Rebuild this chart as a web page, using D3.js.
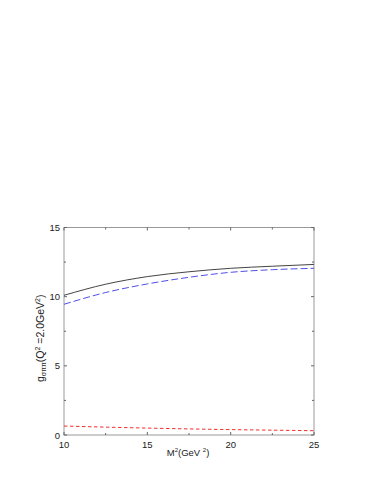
<!DOCTYPE html>
<html><head><meta charset="utf-8">
<script src="https://cdn.jsdelivr.net/npm/d3@7"></script>
<style>body{margin:0;background:#fff}svg{display:block}text{font-family:"Liberation Sans",Arial,sans-serif}</style>
</head><body>
<svg id="c" width="379" height="491"></svg>
<script>
const xs = [10, 12.5, 15, 17.5, 20, 22.5, 25];
const solid = [10.1, 10.9, 11.45, 11.8, 12.05, 12.2, 12.33];
const blueDash = [9.45, 10.3, 10.92, 11.4, 11.76, 11.95, 12.05];
const redDash = [0.65, 0.57, 0.5, 0.44, 0.39, 0.35, 0.31];
const xMajor = [10, 15, 20, 25];
const xMinor = [12.5, 17.5, 22.5];
const yMajor = [0, 5, 10, 15];
const yMinor = [2.5, 7.5, 12.5];

const svg = d3.select("#c");
const L = 64, R = 314, T = 227.5, B = 435;
const x = d3.scaleLinear().domain([10, 25]).range([L, R]);
const y = d3.scaleLinear().domain([0, 15]).range([B, T]);
const frame = "#999";

svg.append("rect").attr("x", L).attr("y", T).attr("width", R - L).attr("height", B - T)
  .attr("fill", "none").attr("stroke", frame).attr("stroke-width", 1);

const g = svg.append("g");
function ticks(vals, len) {
  vals.forEach(v => {
    g.append("line").attr("x1", x(v)).attr("x2", x(v)).attr("y1", B).attr("y2", B - len).attr("stroke", "#666");
    g.append("line").attr("x1", x(v)).attr("x2", x(v)).attr("y1", T).attr("y2", T + len).attr("stroke", "#666");
  });
}
function yticks(vals, len) {
  vals.forEach(v => {
    g.append("line").attr("y1", y(v)).attr("y2", y(v)).attr("x1", L).attr("x2", L + len).attr("stroke", "#666");
    g.append("line").attr("y1", y(v)).attr("y2", y(v)).attr("x1", R).attr("x2", R - len).attr("stroke", "#666");
  });
}
ticks(xMajor, 3); ticks(xMinor, 2); yticks(yMajor, 3); yticks(yMinor, 2);

xMajor.forEach(v => g.append("text").attr("x", x(v)).attr("y", B + 13).attr("text-anchor", "middle")
  .attr("font-size", 9.5).attr("fill", "#222").text(v));
yMajor.forEach(v => g.append("text").attr("x", L - 4).attr("y", y(v) + 3.5).attr("text-anchor", "end")
  .attr("font-size", 9.5).attr("fill", "#222").text(v));

const line = d3.line().x((d, i) => x(xs[i])).y(d => y(d)).curve(d3.curveMonotoneX);
svg.append("path").attr("d", line(solid)).attr("fill", "none").attr("stroke", "#444").attr("stroke-width", 1);
svg.append("path").attr("d", line(blueDash)).attr("fill", "none").attr("stroke", "#5050e8").attr("stroke-width", 1).attr("stroke-dasharray", "7,3");
svg.append("path").attr("d", line(redDash)).attr("fill", "none").attr("stroke", "#f03030").attr("stroke-width", 1).attr("stroke-dasharray", "3.5,2.5");

// x label
const xl = svg.append("text").attr("x", (L + R) / 2 - 1).attr("y", 456).attr("text-anchor", "middle")
  .attr("font-size", 9.5).attr("fill", "#222");
xl.append("tspan").text("M");
xl.append("tspan").attr("font-size", 6).attr("dy", -4).text("2");
xl.append("tspan").attr("dy", 4).text("(GeV ");
xl.append("tspan").attr("font-size", 6).attr("dy", -4).text("2");
xl.append("tspan").attr("dy", 4).text(")");

// y label
const yl = svg.append("text").attr("transform", `translate(44,${(T + B) / 2 + 7}) rotate(-90)`)
  .attr("text-anchor", "middle").attr("font-size", 10.5).attr("fill", "#222");
yl.append("tspan").text("g");
yl.append("tspan").attr("font-size", 7).attr("dy", 2).text("σππ");
yl.append("tspan").attr("dy", -2).text("(Q");
yl.append("tspan").attr("font-size", 7).attr("dy", -4).text("2");
yl.append("tspan").attr("dy", 4).text(" =2.0GeV");
yl.append("tspan").attr("font-size", 7).attr("dy", -4).text("2");
yl.append("tspan").attr("dy", 4).text(")");
</script>
</body></html>
